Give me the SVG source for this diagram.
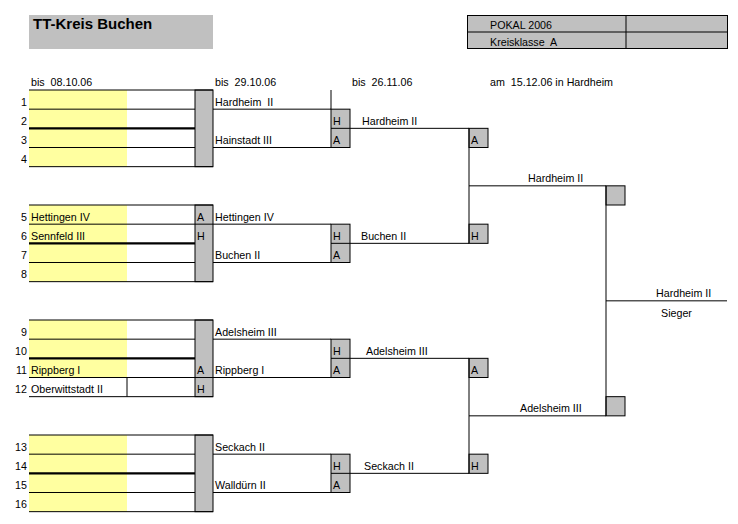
<svg xmlns="http://www.w3.org/2000/svg" width="738" height="524" viewBox="0 0 738 524">
<style>
text{font-family:"Liberation Sans",Arial,sans-serif;font-size:10.7px;fill:#000;white-space:pre}
.title{font-size:15px;font-weight:bold}
.num{text-anchor:end}
.ln{stroke:#000;stroke-width:1;fill:none}
.thick{stroke:#000;stroke-width:2.2;fill:none}
.gray{fill:#C0C0C0;stroke:#000;stroke-width:1}
.yel{fill:#FFFFA0}
</style>
<rect width="738" height="524" fill="#fff"/>

<g id="header">
<rect x="29" y="15" width="184" height="34" fill="#C0C0C0"/>
<text class="title" x="33" y="29">TT-Kreis Buchen</text>
<rect class="gray" x="467.5" y="15.5" width="260" height="33"/>
<line class="ln" x1="467.5" y1="32" x2="727.5" y2="32"/>
<line class="ln" x1="626" y1="15.5" x2="626" y2="48.5"/>
<text x="490" y="28.5">POKAL 2006</text>
<text x="490" y="45.5">Kreisklasse  A</text>
<text x="31" y="86">bis  08.10.06</text>
<text x="215" y="86">bis  29.10.06</text>
<text x="352" y="86">bis  26.11.06</text>
<text x="490" y="86">am  15.12.06 in Hardheim</text>
</g>

<!-- Round 1 tables -->
<g id="r1-group1">
<rect class="yel" x="29" y="90" width="98" height="76.67"/>
<rect class="gray" x="195" y="90" width="18" height="76.67"/>
<line class="ln" x1="29" y1="90" x2="213" y2="90"/>
<line class="ln" x1="29" y1="109.17" x2="195" y2="109.17"/>
<line class="thick" x1="29" y1="128.33" x2="195" y2="128.33"/>
<line class="ln" x1="29" y1="147.5" x2="195" y2="147.5"/>
<line class="ln" x1="29" y1="166.67" x2="213" y2="166.67"/>
<text class="num" x="27" y="105.7">1</text>
<text class="num" x="27" y="124.8">2</text>
<text class="num" x="27" y="144">3</text>
<text class="num" x="27" y="163.2">4</text>
</g>

<g id="r1-group2">
<rect class="yel" x="29" y="205" width="98" height="76.67"/>
<rect class="gray" x="195" y="205" width="18" height="76.67"/>
<line class="ln" x1="29" y1="205" x2="213" y2="205"/>
<line class="ln" x1="29" y1="224.17" x2="213" y2="224.17"/>
<line class="thick" x1="29" y1="243.33" x2="195" y2="243.33"/>
<line class="ln" x1="29" y1="262.5" x2="195" y2="262.5"/>
<line class="ln" x1="29" y1="281.67" x2="213" y2="281.67"/>
<text class="num" x="27" y="220.7">5</text>
<text class="num" x="27" y="239.8">6</text>
<text class="num" x="27" y="259">7</text>
<text class="num" x="27" y="278.2">8</text>
<text x="31" y="220.7">Hettingen IV</text>
<text x="31" y="239.8">Sennfeld III</text>
<text x="197" y="220.7">A</text>
<text x="197" y="239.8">H</text>
</g>

<g id="r1-group3">
<rect class="yel" x="29" y="320" width="98" height="57.5"/>
<rect class="gray" x="195" y="320" width="18" height="76.67"/>
<line class="ln" x1="29" y1="320" x2="213" y2="320"/>
<line class="ln" x1="29" y1="339.17" x2="195" y2="339.17"/>
<line class="thick" x1="29" y1="358.33" x2="195" y2="358.33"/>
<line class="ln" x1="29" y1="377.5" x2="213" y2="377.5"/>
<line class="ln" x1="29" y1="396.67" x2="213" y2="396.67"/>
<line class="ln" x1="127" y1="377.5" x2="127" y2="396.67"/>
<text class="num" x="27" y="335.7">9</text>
<text class="num" x="27" y="354.8">10</text>
<text class="num" x="27" y="374">11</text>
<text class="num" x="27" y="393.2">12</text>
<text x="31" y="374">Rippberg I</text>
<text x="31" y="393.2">Oberwittstadt II</text>
<text x="197" y="374">A</text>
<text x="197" y="393.2">H</text>
</g>

<g id="r1-group4">
<rect class="yel" x="29" y="435" width="98" height="76.67"/>
<rect class="gray" x="195" y="435" width="18" height="76.67"/>
<line class="ln" x1="29" y1="435" x2="213" y2="435"/>
<line class="ln" x1="29" y1="454.17" x2="195" y2="454.17"/>
<line class="thick" x1="29" y1="473.33" x2="195" y2="473.33"/>
<line class="ln" x1="29" y1="492.5" x2="195" y2="492.5"/>
<line class="ln" x1="29" y1="511.67" x2="213" y2="511.67"/>
<text class="num" x="27" y="450.7">13</text>
<text class="num" x="27" y="469.8">14</text>
<text class="num" x="27" y="489">15</text>
<text class="num" x="27" y="508.2">16</text>
</g>

<!-- Round 2 match boxes -->
<g id="r2-match1">
<rect class="gray" x="331" y="109.17" width="19" height="38.33"/>
<line class="ln" x1="331" y1="128.33" x2="350" y2="128.33"/>
<text x="333" y="124.8">H</text>
<text x="333" y="144">A</text>
<text x="215" y="105.7">Hardheim  II</text>
<text x="215" y="144">Hainstadt III</text>
</g>
<g id="r2-match2">
<rect class="gray" x="331" y="224.17" width="19" height="38.33"/>
<line class="ln" x1="331" y1="243.33" x2="350" y2="243.33"/>
<text x="333" y="239.8">H</text>
<text x="333" y="259">A</text>
<text x="215" y="220.7">Hettingen IV</text>
<text x="215" y="259">Buchen II</text>
</g>
<g id="r2-match3">
<rect class="gray" x="331" y="339.17" width="19" height="38.33"/>
<line class="ln" x1="331" y1="358.33" x2="350" y2="358.33"/>
<text x="333" y="354.8">H</text>
<text x="333" y="374">A</text>
<text x="215" y="335.7">Adelsheim III</text>
<text x="215" y="374">Rippberg I</text>
</g>
<g id="r2-match4">
<rect class="gray" x="331" y="454.17" width="19" height="38.33"/>
<line class="ln" x1="331" y1="473.33" x2="350" y2="473.33"/>
<text x="333" y="469.8">H</text>
<text x="333" y="489">A</text>
<text x="215" y="450.7">Seckach II</text>
<text x="215" y="489">Walldürn II</text>
</g>

<!-- Round 3 boxes -->
<g id="r3-match1">
<rect class="gray" x="469" y="128.33" width="19" height="19.17"/>
<text x="471" y="144">A</text>
<rect class="gray" x="469" y="224.17" width="19" height="19.17"/>
<text x="471" y="239.8">H</text>
<text x="362" y="124.5">Hardheim II</text>
<text x="361" y="239.5">Buchen II</text>
</g>
<g id="r3-match2">
<rect class="gray" x="469" y="358.33" width="19" height="19.17"/>
<text x="471" y="374">A</text>
<rect class="gray" x="469" y="454.17" width="19" height="19.17"/>
<text x="471" y="469.8">H</text>
<text x="366" y="354.5">Adelsheim III</text>
<text x="364" y="469.5">Seckach II</text>
</g>

<!-- Final -->
<g id="final">
<rect class="gray" x="606" y="185.83" width="19" height="19.17"/>
<rect class="gray" x="606" y="396.67" width="19" height="19.17"/>
<text x="528" y="181.5">Hardheim II</text>
<text x="520" y="411.5">Adelsheim III</text>
</g>

<g id="winner">
<text x="656" y="296.5">Hardheim II</text>
<text x="661" y="317">Sieger</text>
</g>

<g id="connectors">
<!-- round 1 to round 2 -->
<line class="ln" x1="213" y1="109.17" x2="331" y2="109.17"/>
<line class="ln" x1="213" y1="147.5" x2="331" y2="147.5"/>
<line class="ln" x1="331" y1="90" x2="331" y2="109.17"/>
<line class="ln" x1="213" y1="224.17" x2="331" y2="224.17"/>
<line class="ln" x1="213" y1="262.5" x2="331" y2="262.5"/>
<line class="ln" x1="213" y1="339.17" x2="331" y2="339.17"/>
<line class="ln" x1="213" y1="377.5" x2="331" y2="377.5"/>
<line class="ln" x1="213" y1="454.17" x2="331" y2="454.17"/>
<line class="ln" x1="213" y1="492.5" x2="331" y2="492.5"/>
<!-- round 2 to round 3 -->
<line class="ln" x1="350" y1="128.33" x2="469" y2="128.33"/>
<line class="ln" x1="350" y1="243.33" x2="469" y2="243.33"/>
<line class="ln" x1="350" y1="358.33" x2="469" y2="358.33"/>
<line class="ln" x1="350" y1="473.33" x2="469" y2="473.33"/>
<line class="ln" x1="469" y1="128.33" x2="469" y2="243.33"/>
<line class="ln" x1="469" y1="358.33" x2="469" y2="473.33"/>
<!-- semifinal to final -->
<line class="ln" x1="469" y1="185.83" x2="606" y2="185.83"/>
<line class="ln" x1="469" y1="415.83" x2="606" y2="415.83"/>
<line class="ln" x1="606" y1="185.83" x2="606" y2="415.83"/>
<line class="ln" x1="606" y1="300.83" x2="727" y2="300.83"/>
</g>
</svg>
